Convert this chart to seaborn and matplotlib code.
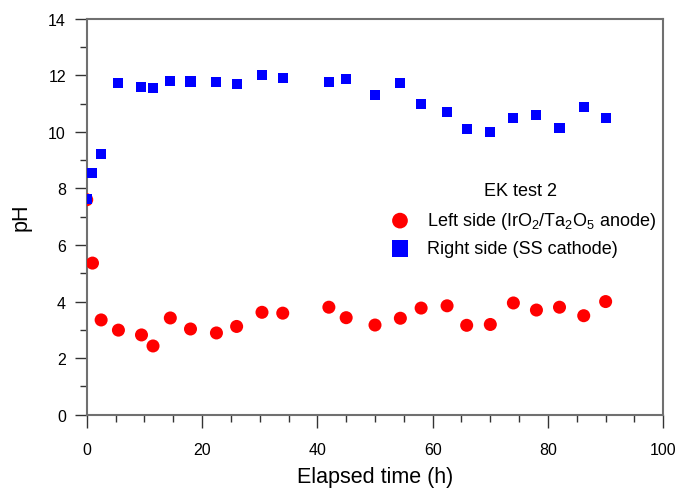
import matplotlib
matplotlib.use("Agg")
import matplotlib.pyplot as plt
import seaborn as sns
import pandas as pd
from matplotlib.ticker import MultipleLocator

time_h = [0, 1.0, 2.5, 5.5, 9.5, 11.5, 14.5, 18.0, 22.5, 26.0, 30.4, 34.0,
          42.0, 45.0, 50.0, 54.4, 58.0, 62.5, 65.9, 70.0, 74.0, 78.0, 82.0, 86.2, 90.0]
ph_left = [7.6, 5.36, 3.35, 2.99, 2.82, 2.43, 3.42, 3.03, 2.89, 3.12, 3.62, 3.59,
           3.80, 3.43, 3.17, 3.41, 3.77, 3.85, 3.16, 3.19, 3.95, 3.70, 3.80, 3.50, 4.00]
ph_right = [7.62, 8.53, 9.20, 11.71, 11.59, 11.54, 11.80, 11.78, 11.75, 11.70, 12.01, 11.89,
            11.75, 11.87, 11.31, 11.72, 10.98, 10.71, 10.11, 9.99, 10.50, 10.59, 10.15, 10.89, 10.49]
series_labels = [r"Left side (IrO$_2$/Ta$_2$O$_5$ anode)", "Right side (SS cathode)"]
legend_title = "EK test 2"

sns.set_style("ticks")
plt.rcParams['font.family'] = ['Liberation Sans', 'DejaVu Sans']
plt.rcParams['mathtext.fontset'] = 'custom'
plt.rcParams['mathtext.rm'] = 'Liberation Sans'
plt.rcParams['mathtext.it'] = 'Liberation Sans:italic'
plt.rcParams['text.color'] = 'black'
plt.rcParams['axes.labelcolor'] = 'black'
plt.rcParams['xtick.color'] = 'black'
plt.rcParams['ytick.color'] = 'black'

df = pd.concat([
    pd.DataFrame({"t": time_h, "pH": ph_left, "side": series_labels[0]}),
    pd.DataFrame({"t": time_h, "pH": ph_right, "side": series_labels[1]}),
])

fig = plt.figure(figsize=(6.78, 4.89), dpi=100)
ax = fig.add_axes([0.1279, 0.1499, 0.8504, 0.8098])

sns.scatterplot(data=df[df.side == series_labels[0]], x="t", y="pH", ax=ax,
                color="#ff0000", marker="o", s=88, edgecolor="none",
                label=series_labels[0], zorder=3)
sns.scatterplot(data=df[df.side == series_labels[1]], x="t", y="pH", ax=ax,
                color="#0000ff", marker="s", s=52, edgecolor="none",
                label=series_labels[1], zorder=4)

ax.set_xlim(0, 100)
ax.set_ylim(0, 14)
ax.xaxis.set_major_locator(MultipleLocator(20))
ax.xaxis.set_minor_locator(MultipleLocator(5))
ax.yaxis.set_major_locator(MultipleLocator(2))
ax.yaxis.set_minor_locator(MultipleLocator(1))
ax.tick_params(which="major", length=9, width=1.0, color="#333333", labelsize=11.5,
               labelcolor="black", direction="out")
ax.tick_params(which="minor", length=5, width=1.0, color="#333333", direction="out")
ax.tick_params(axis="x", which="major", pad=11)
ax.tick_params(axis="y", which="major", pad=6)
for sp in ax.spines.values():
    sp.set_color("#707070")
    sp.set_linewidth(1.5)
ax.set_xlabel("Elapsed time (h)", fontsize=15.5, labelpad=6)
ax.set_ylabel("pH", fontsize=15.5, labelpad=12)

leg = ax.legend(frameon=False, fontsize=13,
                loc="upper left", bbox_to_anchor=(0.512, 0.516),
                handletextpad=0.5, labelspacing=0.5, borderaxespad=0, borderpad=0)
handles = leg.legend_handles
handles[0].set_sizes([128])
handles[1].set_sizes([144])
ax.text(0.753, 0.565, legend_title, transform=ax.transAxes, ha="center", va="center",
        fontsize=13)

fig.savefig("out.png", dpi=100)
